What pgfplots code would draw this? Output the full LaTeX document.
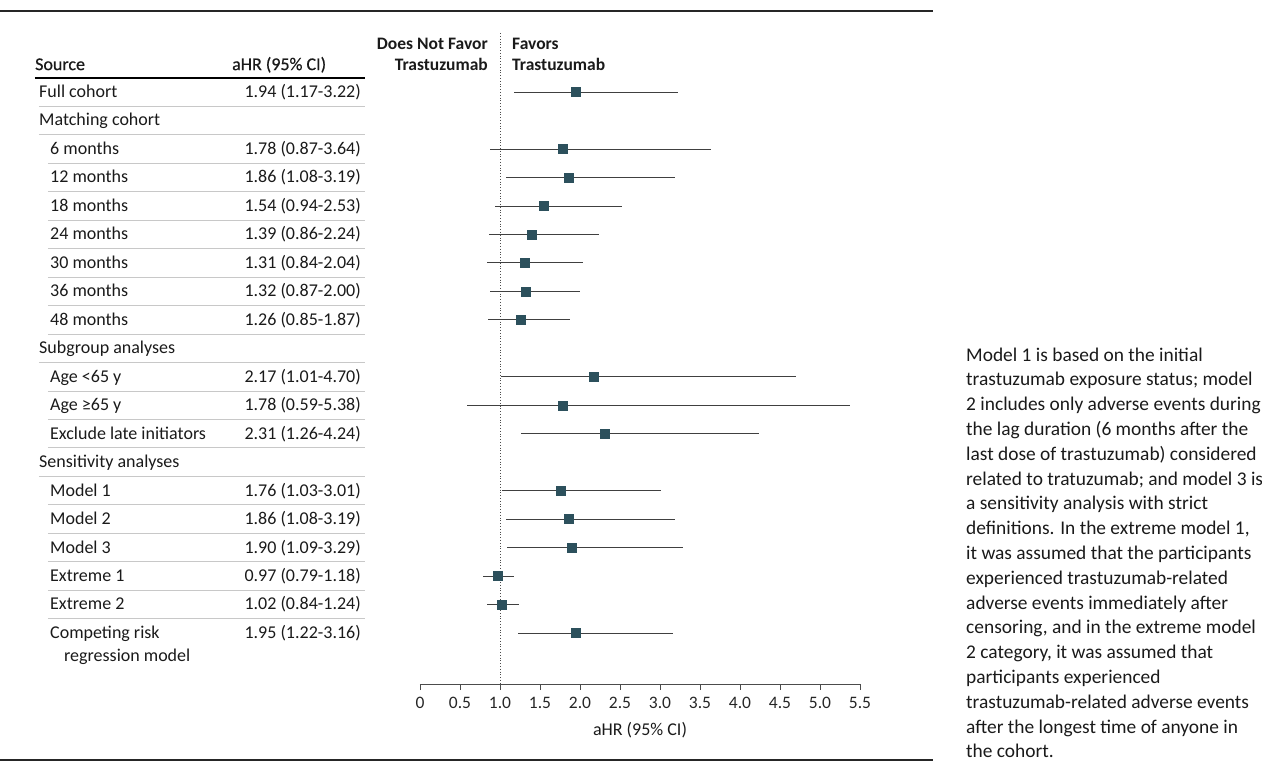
\documentclass[border=0pt]{standalone}
\usepackage{fontspec}
\setmainfont{Carlito}
\newfontfamily\medfont[FakeBold=0.6]{Carlito}
\usepackage{pgfplots}
\usepackage{pgfplotstable}
\pgfplotsset{compat=1.18}
\definecolor{markc}{HTML}{2C505C}
\definecolor{rulec}{HTML}{C8C8C8}
\definecolor{txt}{HTML}{1A1A1A}

% aHR and 95% CI per row (row = line number in the table)
\pgfplotstableread{
row hr lo hi
1 1.94 1.17 3.22
3 1.78 0.87 3.64
4 1.86 1.08 3.19
5 1.54 0.94 2.53
6 1.39 0.86 2.24
7 1.31 0.84 2.04
8 1.32 0.87 2.00
9 1.26 0.85 1.87
11 2.17 1.01 4.70
12 1.78 0.59 5.38
13 2.31 1.26 4.24
15 1.76 1.03 3.01
16 1.86 1.08 3.19
17 1.90 1.09 3.29
18 0.97 0.79 1.18
19 1.02 0.84 1.24
20 1.95 1.22 3.16
}\forest

\begin{document}
\begin{tikzpicture}[
    lab/.style={anchor=mid west, yshift=-3pt, inner sep=0pt, text=txt, font=\fontsize{18}{21}\selectfont},
    val/.style={anchor=mid east, yshift=-3pt, inner sep=0pt, text=txt, font=\fontsize{18}{21}\selectfont},
    hd/.style={inner sep=0pt, text=txt, font=\fontsize{18}{21}\selectfont\medfont},
    hdr/.style={inner sep=0pt, text=txt, font=\fontsize{17.5}{21}\selectfont\bfseries},
    rl/.style={draw=rulec, line width=1pt}
]
\path[use as bounding box] (0,0) rectangle (1262pt,-762pt);

\begin{axis}[
    x=80pt, y=28.47pt,
    anchor=south west, at={(420pt,-684pt)},
    xmin=0, xmax=5.5, ymin=-21.79, ymax=1.07,
    axis x line*=bottom, axis y line=none,
    axis line style={black!70, line width=0.9pt},
    clip=false,
    xtick={0,0.5,1,1.5,2,2.5,3,3.5,4,4.5,5,5.5},
    xticklabels={0,0.5,1.0,1.5,2.0,2.5,3.0,3.5,4.0,4.5,5.0,5.5},
    tick align=outside, major tick length=6pt,
    xtick style={black!70, line width=0.9pt},
    ytick=\empty,
    /pgf/number format/assume math mode=true,
    tick label style={font=\fontsize{17.5}{20}\selectfont, text=black!85},
    xticklabel style={yshift=-4pt},
]
\addplot[black!70, dotted, line width=0.8pt] coordinates {(1,1.07) (1,-21.79)};

\addplot[only marks, mark=square*, mark size=4.5pt, color=markc,
    error bars/.cd, x dir=both, x explicit, error mark=none,
    error bar style={line width=0.9pt, black!75}]
    table[x=hr, y expr=-\thisrow{row},
          x error plus expr=\thisrow{hi}-\thisrow{hr},
          x error minus expr=\thisrow{hr}-\thisrow{lo}] {\forest};

% column headers
\node[hd, anchor=base west] at (axis cs:-4.8125,-0.227) {Source};
\node[hd, anchor=base west] at (axis cs:-2.35,-0.227) {aHR (95\% CI)};
\draw[black, line width=1.3pt] (axis cs:-4.8125,-0.508) -- (axis cs:-0.6875,-0.508);
\node[hdr, anchor=base east] at (axis cs:0.85,0.51) {Does Not Favor};
\node[hdr, anchor=base east] at (axis cs:0.85,-0.227) {Trastuzumab};
\node[hdr, anchor=base west] at (axis cs:1.15,0.51) {Favors};
\node[hdr, anchor=base west] at (axis cs:1.15,-0.227) {Trastuzumab};

% table rows
\node[lab] at (axis cs:-4.7625,-1) {Full cohort};
\node[val] at (axis cs:-0.7375,-1) {1.94 (1.17-3.22)};
\node[lab] at (axis cs:-4.7625,-2) {Matching cohort};
\node[lab] at (axis cs:-4.625,-3) {6 months};
\node[val] at (axis cs:-0.7375,-3) {1.78 (0.87-3.64)};
\node[lab] at (axis cs:-4.625,-4) {12 months};
\node[val] at (axis cs:-0.7375,-4) {1.86 (1.08-3.19)};
\node[lab] at (axis cs:-4.625,-5) {18 months};
\node[val] at (axis cs:-0.7375,-5) {1.54 (0.94-2.53)};
\node[lab] at (axis cs:-4.625,-6) {24 months};
\node[val] at (axis cs:-0.7375,-6) {1.39 (0.86-2.24)};
\node[lab] at (axis cs:-4.625,-7) {30 months};
\node[val] at (axis cs:-0.7375,-7) {1.31 (0.84-2.04)};
\node[lab] at (axis cs:-4.625,-8) {36 months};
\node[val] at (axis cs:-0.7375,-8) {1.32 (0.87-2.00)};
\node[lab] at (axis cs:-4.625,-9) {48 months};
\node[val] at (axis cs:-0.7375,-9) {1.26 (0.85-1.87)};
\node[lab] at (axis cs:-4.7625,-10) {Subgroup analyses};
\node[lab] at (axis cs:-4.625,-11) {Age <65 y};
\node[val] at (axis cs:-0.7375,-11) {2.17 (1.01-4.70)};
\node[lab] at (axis cs:-4.625,-12) {Age ≥65 y};
\node[val] at (axis cs:-0.7375,-12) {1.78 (0.59-5.38)};
\node[lab] at (axis cs:-4.625,-13) {Exclude late initiators};
\node[val] at (axis cs:-0.7375,-13) {2.31 (1.26-4.24)};
\node[lab] at (axis cs:-4.7625,-14) {Sensitivity analyses};
\node[lab] at (axis cs:-4.625,-15) {Model 1};
\node[val] at (axis cs:-0.7375,-15) {1.76 (1.03-3.01)};
\node[lab] at (axis cs:-4.625,-16) {Model 2};
\node[val] at (axis cs:-0.7375,-16) {1.86 (1.08-3.19)};
\node[lab] at (axis cs:-4.625,-17) {Model 3};
\node[val] at (axis cs:-0.7375,-17) {1.90 (1.09-3.29)};
\node[lab] at (axis cs:-4.625,-18) {Extreme 1};
\node[val] at (axis cs:-0.7375,-18) {0.97 (0.79-1.18)};
\node[lab] at (axis cs:-4.625,-19) {Extreme 2};
\node[val] at (axis cs:-0.7375,-19) {1.02 (0.84-1.24)};
\node[lab] at (axis cs:-4.625,-20) {Competing risk};
\node[lab] at (axis cs:-4.45,-20.82) {regression model};
\node[val] at (axis cs:-0.7375,-20) {1.95 (1.22-3.16)};

% row separators
\pgfplotsinvokeforeach{1.5,2.5,10.5,14.5}{
  \draw[rl] (axis cs:-4.7625,-#1) -- (axis cs:-0.6875,-#1);}
\pgfplotsinvokeforeach{3.5,4.5,5.5,6.5,7.5,8.5,9.5,11.5,12.5,13.5,15.5,16.5,17.5,18.5,19.5}{
  \draw[rl] (axis cs:-4.65,-#1) -- (axis cs:-0.6875,-#1);}
\end{axis}

\node[inner sep=0pt, text=txt, font=\fontsize{18}{21}\selectfont, anchor=base] at (640pt,-735pt) {aHR (95\% CI)};
\draw[black!85, line width=1.4pt] (0pt,-11pt) -- (933pt,-11pt);
\draw[black!85, line width=1.4pt] (0pt,-760pt) -- (933pt,-760pt);

\foreach \t [count=\i] in {
    {Model 1 is based on the initial},
    {trastuzumab exposure status; model},
    {2 includes only adverse events during},
    {the lag duration (6 months after the},
    {last dose of trastuzumab) considered},
    {related to tratuzumab; and model 3 is},
    {a sensitivity analysis with strict},
    {definitions. In the extreme model 1,},
    {it was assumed that the participants},
    {experienced trastuzumab-related},
    {adverse events immediately after},
    {censoring, and in the extreme model},
    {2 category, it was assumed that},
    {participants experienced},
    {trastuzumab-related adverse events},
    {after the longest time of anyone in},
    {the cohort.}}
  \node[anchor=base west, inner sep=0pt, text=txt, font=\fontsize{19.4}{24}\selectfont]
    at (966pt, {-(361+(\i-1)*24.8)*1pt}) {\t};
\end{tikzpicture}
\end{document}
